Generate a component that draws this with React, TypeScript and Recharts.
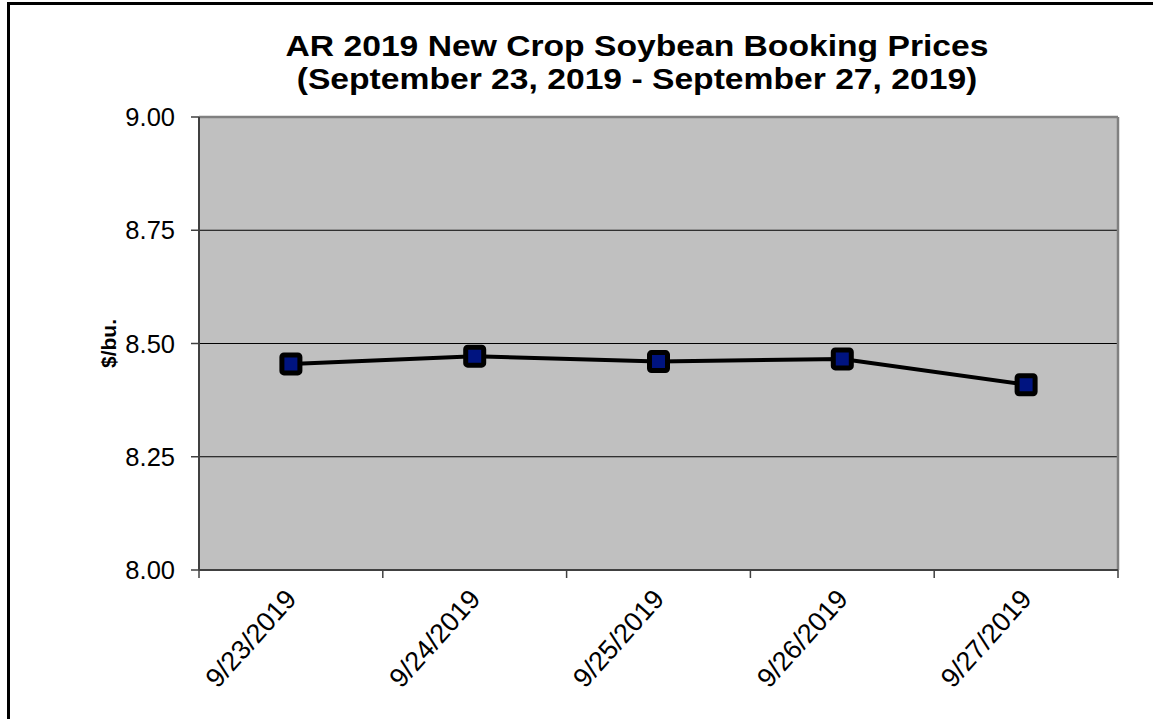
import React from 'react';
import { ComposedChart, Line, XAxis, YAxis, CartesianGrid } from 'recharts';

const dates = ['9/23/2019', '9/24/2019', '9/25/2019', '9/26/2019', '9/27/2019'];
const prices = [8.455, 8.472, 8.46, 8.466, 8.409];
const yTicks = [8.0, 8.25, 8.5, 8.75, 9.0];
const titleLines = ['AR 2019 New Crop Soybean Booking Prices', '(September 23, 2019 - September 27, 2019)'];
const yLabel = '$/bu.';

const data = dates.map((d, i) => ({ date: d, price: prices[i] }));

const W = 1153;
const H = 719;
const M = { top: 117, right: 35, bottom: 9, left: 99 };
const Y_AXIS_W = 100;
const X_AXIS_H = 140;
const PLOT_W = W - M.left - M.right - Y_AXIS_W;
const BAND = PLOT_W / dates.length;
const FONT = '"Liberation Sans", Arial, sans-serif';

const XTick = (props: any) => {
  const { x, y, payload, index } = props;
  const last = index === dates.length - 1;
  const tx = x + 7;
  const ty = y + 22;
  return (
    <g>
      <line x1={x - BAND / 2} x2={x - BAND / 2} y1={y - 8} y2={y} stroke="#404040" strokeWidth={1.5} />
      {last && <line x1={x + BAND / 2} x2={x + BAND / 2} y1={y - 8} y2={y} stroke="#404040" strokeWidth={1.5} />}
      <text
        x={tx}
        y={ty}
        textAnchor="end"
        transform={`rotate(-48 ${tx} ${ty})`}
        fontFamily={FONT}
        fontSize={27}
        fill="#000"
      >
        {payload.value}
      </text>
    </g>
  );
};

const Marker = (props: any) => {
  const { cx, cy } = props;
  if (cx == null || cy == null) return null;
  return <rect x={cx - 9} y={cy - 9} width={18} height={18} rx={2} fill="#001480" stroke="#000" strokeWidth={5} />;
};

const YLabel = (props: any) => {
  const vb = props.viewBox || {};
  const cx = vb.x + 9;
  const cy = vb.y + vb.height / 2;
  return (
    <text
      x={cx}
      y={cy}
      textAnchor="middle"
      dominantBaseline="central"
      transform={`rotate(-90 ${cx} ${cy})`}
      fontFamily={FONT}
      fontWeight="bold"
      fontSize={21}
      fill="#000"
    >
      {yLabel}
    </text>
  );
};

export default function App() {
  return (
    <div style={{ position: 'absolute', left: 0, top: 0, width: W, height: H, background: '#fff', overflow: 'hidden' }}>
      <div
        style={{
          position: 'absolute',
          left: 7,
          top: 2,
          width: W,
          height: H,
          borderLeft: '3px solid #000',
          borderTop: '3px solid #000',
        }}
      />
      <div
        style={{
          position: 'absolute',
          left: 237,
          top: 30,
          width: 800,
          textAlign: 'center',
          fontFamily: FONT,
          fontWeight: 'bold',
          fontSize: 29,
          lineHeight: '33px',
          color: '#000',
          transform: 'scaleX(1.16)',
          transformOrigin: '400px 0',
          whiteSpace: 'nowrap',
        }}
      >
        {titleLines.map((t) => (
          <div key={t}>{t}</div>
        ))}
      </div>
      <div style={{ position: 'absolute', left: 0, top: 0 }}>
        <ComposedChart width={W} height={H} data={data} margin={M}>
          <CartesianGrid vertical={false} stroke="#000" strokeWidth={1.2} fill="#C0C0C0" fillOpacity={1} />
          <CartesianGrid
            stroke="#808080"
            strokeWidth={2.5}
            horizontalCoordinatesGenerator={({ offset }: any) => [offset.top]}
            verticalCoordinatesGenerator={({ offset }: any) => [offset.left + offset.width]}
          />
          <XAxis
            dataKey="date"
            type="category"
            scale="band"
            interval={0}
            height={X_AXIS_H}
            tickLine={false}
            tickSize={8}
            tickMargin={0}
            axisLine={{ stroke: '#404040', strokeWidth: 2 }}
            tick={<XTick />}
          />
          <YAxis
            domain={[8, 9]}
            ticks={yTicks}
            width={Y_AXIS_W}
            tickFormatter={(v: number) => v.toFixed(2)}
            tickSize={8}
            tickMargin={16}
            tickLine={{ stroke: '#404040', strokeWidth: 1.5 }}
            axisLine={{ stroke: '#404040', strokeWidth: 2 }}
            tick={{ fontFamily: FONT, fontSize: 25.5, fill: '#000' }}
            label={<YLabel />}
          />
          <Line
            type="linear"
            dataKey="price"
            stroke="#000"
            strokeWidth={4}
            dot={<Marker />}
            activeDot={false}
            isAnimationActive={false}
          />
        </ComposedChart>
      </div>
    </div>
  );
}
